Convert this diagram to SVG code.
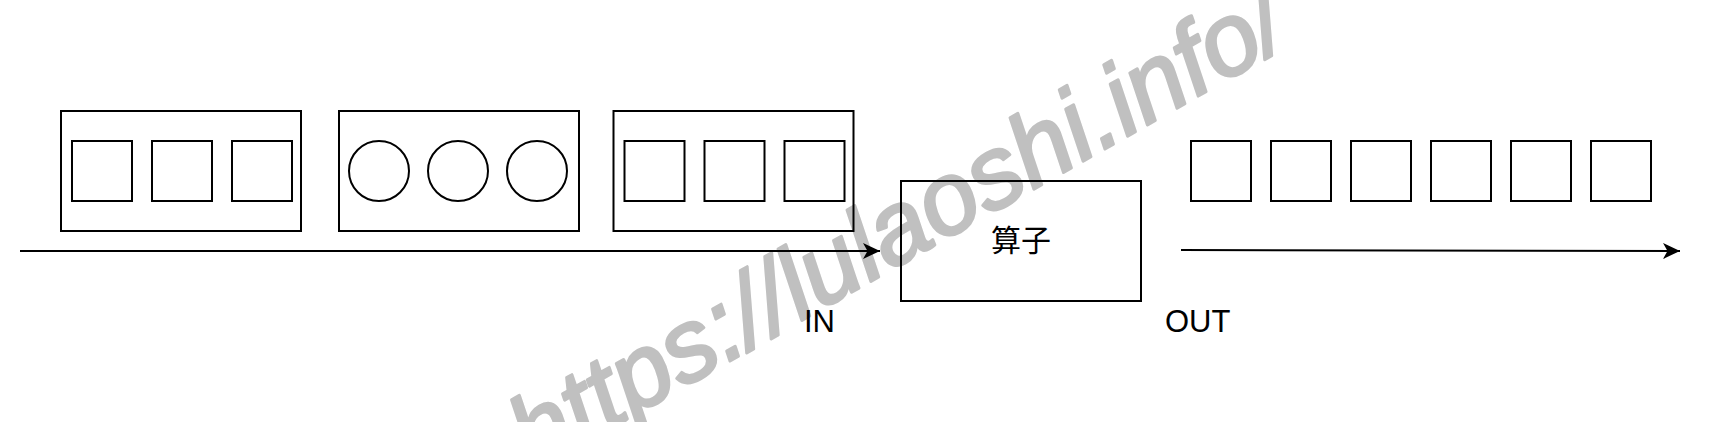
<svg xmlns="http://www.w3.org/2000/svg" width="1722" height="422" viewBox="0 0 1722 422">
<style>
.b{fill:none;stroke:#000;stroke-width:2}
.lbl{font-family:"Liberation Sans",Arial,sans-serif;font-size:31px;fill:#000}
.cjk{font-family:"Liberation Sans","Noto Sans CJK SC",sans-serif;font-size:30px;fill:#000}
.wm{font-family:"Liberation Sans",Arial,sans-serif;font-size:102px;font-style:italic;fill:#c0c0c0;stroke:#c0c0c0;stroke-width:3;stroke-linejoin:round}
.edge{fill:none;stroke:#000;stroke-width:2}
</style>
<defs>
<marker id="arr" markerUnits="userSpaceOnUse" markerWidth="20" markerHeight="18" refX="17" refY="8" orient="auto">
<path d="M0,0 L17,8 L0,16 L4.5,8 Z" fill="#000"/>
</marker>
</defs>
<rect width="1722" height="422" fill="#fff"/>
<g id="watermark">
<text class="wm" transform="translate(534,472) rotate(-29.5)">https://lulaoshi.info/</text>
</g>
<g id="batch1">
<rect class="b" x="61" y="111" width="240" height="120"/>
<rect class="b" x="72" y="141" width="60" height="60"/>
<rect class="b" x="152" y="141" width="60" height="60"/>
<rect class="b" x="232" y="141" width="60" height="60"/>
</g>
<g id="batch2">
<rect class="b" x="339" y="111" width="240" height="120"/>
<circle class="b" cx="379" cy="171" r="30"/>
<circle class="b" cx="458" cy="171" r="30"/>
<circle class="b" cx="537" cy="171" r="30"/>
</g>
<g id="batch3">
<rect class="b" x="613.5" y="111" width="240" height="120"/>
<rect class="b" x="624.5" y="141" width="60" height="60"/>
<rect class="b" x="704.5" y="141" width="60" height="60"/>
<rect class="b" x="784.5" y="141" width="60" height="60"/>
</g>
<g id="operator">
<rect class="b" x="901" y="181" width="240" height="120"/>
<text class="cjk" x="1021" y="251" text-anchor="middle">算子</text>
</g>
<g id="output">
<rect class="b" x="1191" y="141" width="60" height="60"/>
<rect class="b" x="1271" y="141" width="60" height="60"/>
<rect class="b" x="1351" y="141" width="60" height="60"/>
<rect class="b" x="1431" y="141" width="60" height="60"/>
<rect class="b" x="1511" y="141" width="60" height="60"/>
<rect class="b" x="1591" y="141" width="60" height="60"/>
</g>
<g id="connectors">
<line class="edge" x1="20" y1="251" x2="880" y2="251" marker-end="url(#arr)"/>
<line class="edge" x1="1181" y1="250" x2="1680" y2="251" marker-end="url(#arr)"/>
</g>
<g id="labels">
<text class="lbl" x="804" y="331.5">IN</text>
<text class="lbl" x="1165" y="331.5">OUT</text>
</g>
</svg>
